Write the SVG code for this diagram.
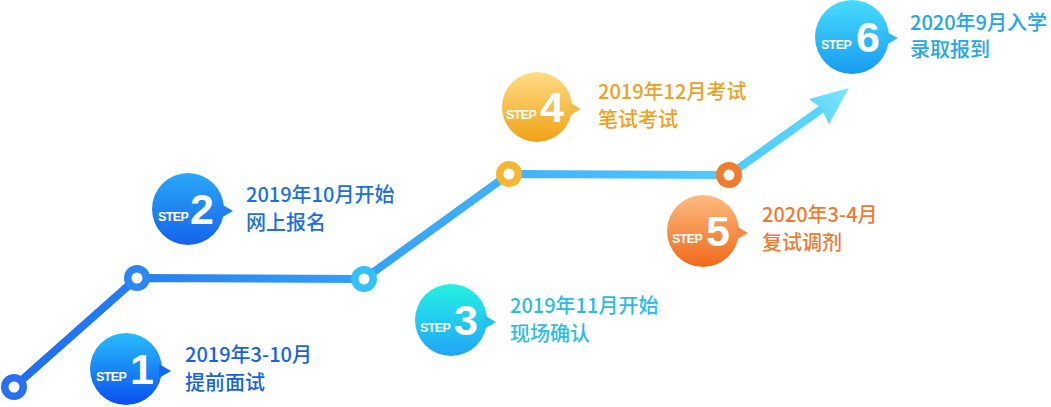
<svg xmlns="http://www.w3.org/2000/svg" width="1051" height="407" viewBox="0 0 1051 407">
<defs>
<linearGradient id="lineG" gradientUnits="userSpaceOnUse" x1="14" y1="0" x2="848" y2="0">
<stop offset="0" stop-color="#1f6cef"/>
<stop offset="0.45" stop-color="#36a4f6"/>
<stop offset="1" stop-color="#5ad8fd"/>
</linearGradient>
<linearGradient id="arrowG" x1="0" y1="1" x2="1" y2="0">
<stop offset="0" stop-color="#55d2fb"/>
<stop offset="1" stop-color="#7ee6ff"/>
</linearGradient>
<linearGradient id="g1" x1="0" y1="0" x2="0" y2="1">
<stop offset="0" stop-color="#27bdfb"/>
<stop offset="1" stop-color="#0a4ff0"/>
</linearGradient>
<linearGradient id="g2" x1="0" y1="0" x2="0" y2="1">
<stop offset="0" stop-color="#2aa8f8"/>
<stop offset="1" stop-color="#1563ea"/>
</linearGradient>
<linearGradient id="g3" x1="0" y1="0" x2="0" y2="1">
<stop offset="0" stop-color="#24f2e2"/>
<stop offset="1" stop-color="#22a4f8"/>
</linearGradient>
<linearGradient id="g4" x1="0" y1="0" x2="0" y2="1">
<stop offset="0" stop-color="#fedc86"/>
<stop offset="1" stop-color="#efa216"/>
</linearGradient>
<linearGradient id="g5" x1="0" y1="0" x2="0" y2="1">
<stop offset="0" stop-color="#fdbb80"/>
<stop offset="1" stop-color="#f0691a"/>
</linearGradient>
<linearGradient id="g6" x1="0" y1="0" x2="0" y2="1">
<stop offset="0" stop-color="#48dcff"/>
<stop offset="1" stop-color="#179bef"/>
</linearGradient>
</defs>
<style>
.step{font-family:"Liberation Sans",Arial,sans-serif;font-weight:bold;fill:#fff;font-size:12.5px;letter-spacing:-0.6px}
.num{font-family:"Liberation Sans",Arial,sans-serif;font-weight:bold;fill:#fff;font-size:43px}
.lbl{font-family:"Noto Sans CJK SC","Noto Sans",sans-serif;font-size:20px;font-weight:500}
</style>
<g id="connectors">
<polyline points="14,387 137,278 364,279 509,174 729,175 823,108" fill="none" stroke="url(#lineG)" stroke-width="8" stroke-linejoin="round"/>
<polygon points="849,88 809,99 821,108 829,124" fill="url(#arrowG)"/>
</g>
<g id="dots">
<circle cx="14" cy="387" r="13" fill="#2a6ff0"/><circle cx="14" cy="387" r="5.5" fill="#fff"/>
<circle cx="137" cy="278" r="13" fill="#2b86f0"/><circle cx="137" cy="278" r="5.5" fill="#fff"/>
<circle cx="364" cy="279" r="13" fill="#33c2f8"/><circle cx="364" cy="279" r="5.5" fill="#fff"/>
<circle cx="509" cy="174" r="13" fill="#f6b632"/><circle cx="509" cy="174" r="5.5" fill="#fff"/>
<circle cx="729" cy="175" r="13" fill="#f47a2c"/><circle cx="729" cy="175" r="5.5" fill="#fff"/>
</g>
<g id="step1">
<circle cx="126" cy="369" r="36" fill="url(#g1)"/>
<polygon points="159,364 171,371 159,378" fill="#1268f0"/>
<text class="step" x="96" y="381">STEP</text>
<text class="num" x="130" y="384">1</text>
<text class="lbl" x="185" y="362" fill="#1663e2">2019年3-10月</text>
<text class="lbl" x="185" y="390" fill="#1663e2">提前面试</text>
</g>
<g id="step2">
<circle cx="188" cy="209" r="36" fill="url(#g2)"/>
<polygon points="221,204 233,211 221,218" fill="#1e82f0"/>
<text class="step" x="158" y="221">STEP</text>
<text class="num" x="190" y="224">2</text>
<text class="lbl" x="246" y="202" fill="#1a70e2">2019年10月开始</text>
<text class="lbl" x="246" y="230" fill="#1a70e2">网上报名</text>
</g>
<g id="step3">
<circle cx="451" cy="320" r="36" fill="url(#g3)"/>
<polygon points="484,315 496,322 484,329" fill="#22c2f0"/>
<text class="step" x="420" y="332">STEP</text>
<text class="num" x="454" y="335">3</text>
<text class="lbl" x="510" y="313" fill="#2bbbe8">2019年11月开始</text>
<text class="lbl" x="510" y="341" fill="#2bbbe8">现场确认</text>
</g>
<g id="step4">
<circle cx="537" cy="107" r="35" fill="url(#g4)"/>
<polygon points="569,102 581,109 569,116" fill="#f4bb45"/>
<text class="step" x="506" y="119">STEP</text>
<text class="num" x="540" y="122">4</text>
<text class="lbl" x="598" y="99" fill="#f0a01e">2019年12月考试</text>
<text class="lbl" x="598" y="127" fill="#f0a01e">笔试考试</text>
</g>
<g id="step5">
<circle cx="703" cy="231" r="36" fill="url(#g5)"/>
<polygon points="736,226 748,233 736,240" fill="#f48a44"/>
<text class="step" x="672" y="243">STEP</text>
<text class="num" x="706" y="246">5</text>
<text class="lbl" x="762" y="222" fill="#f07a30">2020年3-4月</text>
<text class="lbl" x="762" y="250" fill="#f07a30">复试调剂</text>
</g>
<g id="step6">
<circle cx="852" cy="37" r="37" fill="url(#g6)"/>
<polygon points="886,32 898,38 886,45" fill="#2eb8f6"/>
<text class="step" x="821" y="49">STEP</text>
<text class="num" x="856" y="52">6</text>
<text class="lbl" x="910" y="30" fill="#23a6ea">2020年9月入学</text>
<text class="lbl" x="910" y="57" fill="#23a6ea">录取报到</text>
</g>
</svg>
